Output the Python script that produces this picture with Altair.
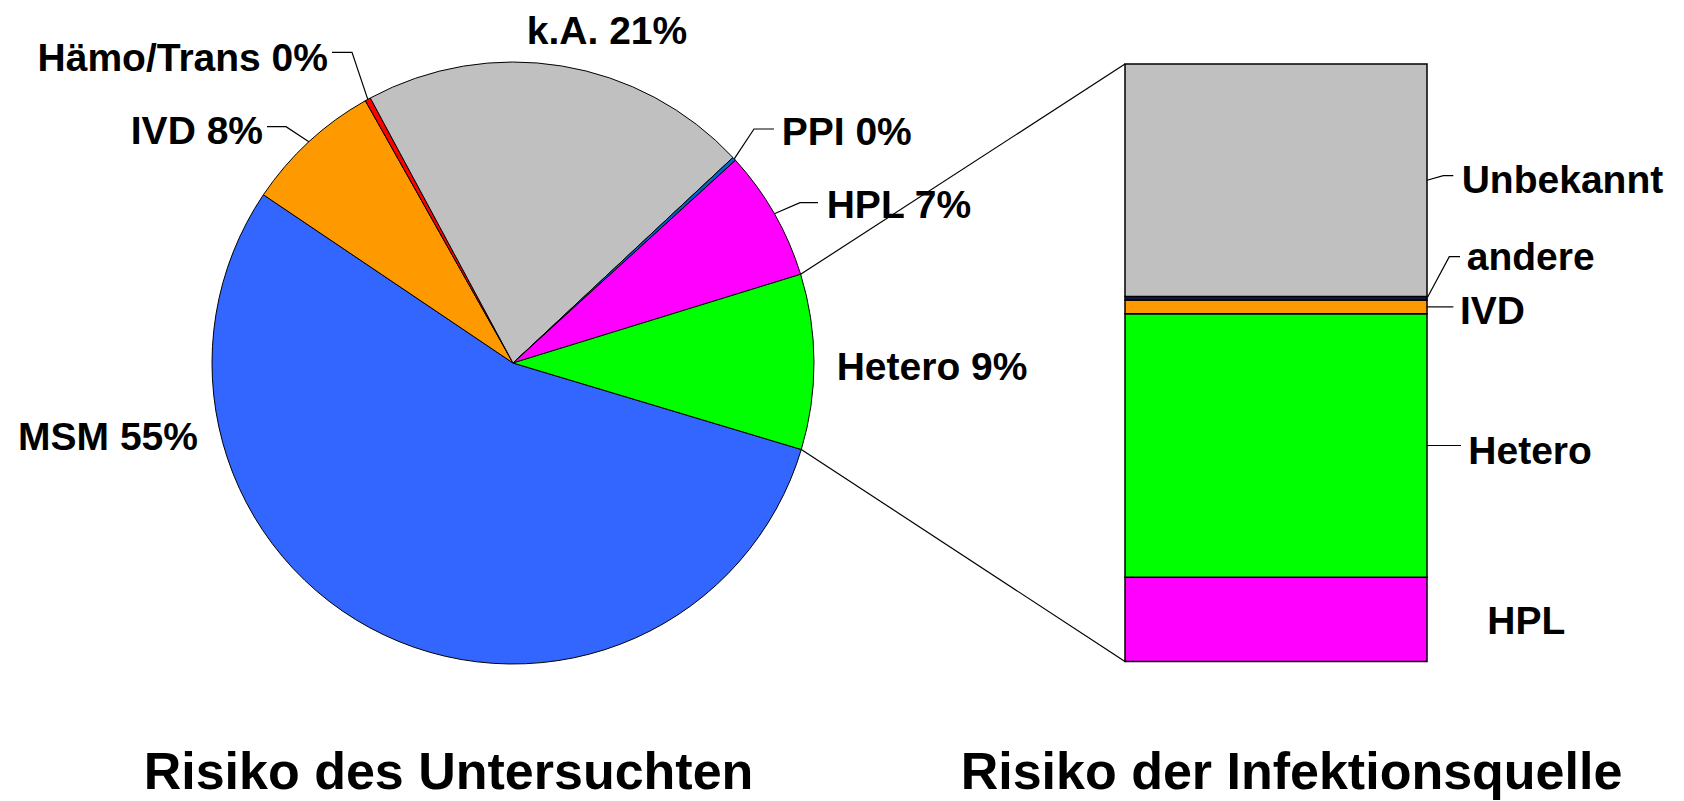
import math
import numpy as np
import pandas as pd
import altair as alt

# ---------------- data ----------------
pie_categories = ["MSM", "IVD", "Hämo/Trans", "k.A.", "PPI", "HPL", "Hetero"]
pie_values = [54.8, 7.4, 0.3, 20.9, 0.2, 7.0, 9.4]
pie_labels = ["MSM 55%", "IVD 8%", "Hämo/Trans 0%", "k.A. 21%", "PPI 0%", "HPL 7%", "Hetero 9%"]
pie_colors = ["#3366FF", "#FF9900", "#FF0000", "#C0C0C0", "#0066CC", "#FF00FF", "#00FF00"]

bar_categories = ["HPL", "Hetero", "IVD", "andere", "Unbekannt"]   # bottom -> top
bar_values = [14.1, 44.1, 2.3, 0.6, 38.9]
bar_colors = ["#FF00FF", "#00FF00", "#FF9900", "#1A1A4A", "#C0C0C0"]

titles = ["Risiko des Untersuchten", "Risiko der Infektionsquelle"]

# ---------------- layout ----------------
W, H = 1668, 792
CX, CY, R = 505, 355, 301
START_DEG = 106.7
BAR_X0, BAR_X1 = 1117, 1419
BAR_Y_BOTTOM, BAR_Y_TOP = 653.5, 56
FONT = "Liberation Sans"
FS = 39
TFS = 52

# ---------------- derived tables ----------------
pie = pd.DataFrame({"cat": pie_categories, "value": pie_values, "color": pie_colors})
pie["t1"] = pie["value"].cumsum()
pie["t0"] = pie["t1"] - pie["value"]

bar = pd.DataFrame({"cat": bar_categories, "value": bar_values, "color": bar_colors})
bar["y1"] = bar["value"].cumsum()
bar["y0"] = bar["y1"] - bar["value"]


def pie_point(pct):
    a = math.radians(START_DEG + pct * 3.6)
    return CX + R * math.sin(a), CY - R * math.cos(a)


def bar_y(v):
    return BAR_Y_BOTTOM - v / 100.0 * (BAR_Y_BOTTOM - BAR_Y_TOP)


def pie_mid(cat):
    r = pie[pie.cat == cat].iloc[0]
    return pie_point((r.t0 + r.t1) / 2)


def bar_mid(cat):
    r = bar[bar.cat == cat].iloc[0]
    return BAR_X1, bar_y((r.y0 + r.y1) / 2)


leaders = {
    "hamo": [(324, 44.3), (344, 44.3), pie_mid("Hämo/Trans")],
    "ivd": [(259, 118.7), (278, 118.7), pie_mid("IVD")],
    "ppi": [(766, 121), (746, 121), pie_mid("PPI")],
    "hpl": [(810, 194.7), (792, 194.7), pie_mid("HPL")],
    "unb": [bar_mid("Unbekannt"), (1435.3, 167.7), (1445.3, 167.7)],
    "and": [bar_mid("andere"), (1441.3, 248.7), (1452, 248.7)],
    "bivd": [bar_mid("IVD"), (1445.3, bar_mid("IVD")[1])],
    "bhet": [bar_mid("Hetero"), (1453, bar_mid("Hetero")[1])],
}
lrows = []
for k, pts in leaders.items():
    for i, (x, y) in enumerate(pts):
        lrows.append({"id": k, "i": i, "x": x, "y": y})
lead_df = pd.DataFrame(lrows)

het = pie[pie.cat == "Hetero"].iloc[0]
p_top = pie_point(het.t0)
p_bot = pie_point(het.t1)
conn_df = pd.DataFrame({
    "x": [p_top[0], p_bot[0]], "y": [p_top[1], p_bot[1]],
    "x2": [BAR_X0, BAR_X0], "y2": [bar_y(100), bar_y(0)],
})

lab = dict(zip(pie_categories, pie_labels))
right_df = pd.DataFrame({
    "t": [lab["MSM"], lab["IVD"], lab["Hämo/Trans"]],
    "x": [190, 255, 320], "y": [442, 136, 62.7]})
center_df = pd.DataFrame({"t": [lab["k.A."]], "x": [599], "y": [35.5]})
left_df = pd.DataFrame({
    "t": [lab["PPI"], lab["HPL"], lab["Hetero"]] + bar_categories[::-1],
    "x": [773.7, 818.7, 828.7, 1453.7, 1458.7, 1452, 1460.3, 1479.3],
    "y": [137, 210.3, 372, 185.3, 262, 316.3, 456, 626.3]})
title_df = pd.DataFrame({"t": titles, "x": [440.5, 1283.5], "y": [780.5, 780.5]})

XS = alt.Scale(domain=[0, W], range=[0, W], nice=False, zero=False)
YS = alt.Scale(domain=[0, H], range=[0, H], nice=False, zero=False)


def px(field):
    return alt.X(field, type="quantitative", scale=XS, axis=None)


def py(field):
    return alt.Y(field, type="quantitative", scale=YS, axis=None)


arcs = alt.Chart(pie).mark_arc(radius=R, stroke="black", strokeWidth=1).encode(
    theta=alt.Theta("t0:Q", scale=alt.Scale(domain=[0, 100],
                    range=[math.radians(START_DEG), math.radians(START_DEG) + 2 * math.pi])),
    theta2="t1:Q",
    color=alt.Color("color:N", scale=None),
    x=alt.value(CX), y=alt.value(CY),
)

bars = alt.Chart(bar).mark_bar(stroke="black", strokeWidth=1.5).encode(
    x=alt.value(BAR_X0), x2=alt.value(BAR_X1),
    y=alt.Y("y0:Q", scale=alt.Scale(domain=[0, 100], range=[BAR_Y_BOTTOM, BAR_Y_TOP], nice=False), axis=None),
    y2="y1:Q",
    color=alt.Color("color:N", scale=None),
)

conn = alt.Chart(conn_df).mark_rule(color="black", strokeWidth=1.2).encode(
    x=px("x"), y=py("y"), x2="x2:Q", y2="y2:Q")

lead = alt.Chart(lead_df).mark_line(color="black", strokeWidth=1.2).encode(
    x=px("x"), y=py("y"), detail="id:N", order="i:Q")


def texts(df, align, size):
    return alt.Chart(df).mark_text(align=align, baseline="alphabetic", font=FONT,
                                   fontWeight="bold", fontSize=size, color="black").encode(
        x=px("x"), y=py("y"), text="t:N")


chart = alt.layer(
    arcs, bars, conn, lead,
    texts(right_df, "right", FS), texts(center_df, "center", FS),
    texts(left_df, "left", FS), texts(title_df, "center", TFS),
).resolve_scale(x="independent", y="independent").properties(
    width=W, height=H, autosize=alt.AutoSizeParams(type="none"), padding=0
).configure_view(stroke=None)

chart.save("out.html", embed_options={"renderer": "svg", "actions": False})
